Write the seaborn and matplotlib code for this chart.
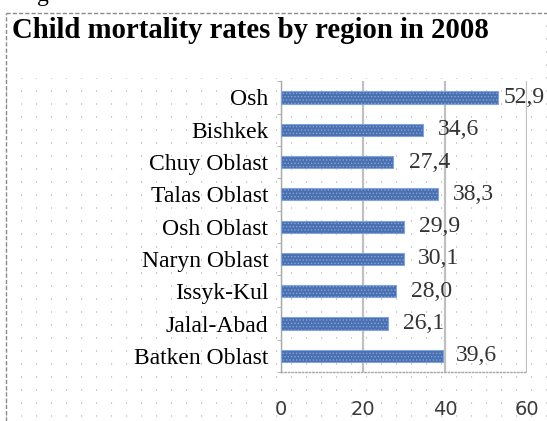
import matplotlib
matplotlib.use("Agg")
import matplotlib.pyplot as plt
import seaborn as sns
import pandas as pd
import numpy as np
from matplotlib.patches import Rectangle
from matplotlib.lines import Line2D
from matplotlib.container import BarContainer

# ---- data ----
regions = ["Osh", "Bishkek", "Chuy Oblast", "Talas Oblast", "Osh Oblast",
           "Naryn Oblast", "Issyk-Kul", "Jalal-Abad", "Batken Oblast"]
rates = [52.9, 34.6, 27.4, 38.3, 29.9, 30.1, 28.0, 26.1, 39.6]
x_ticks = [0, 20, 40, 60]
title = "Child mortality rates by region in 2008"

# ---- style ----
label_padding = [4, 11, 11, 11, 11, 10, 11, 11, 9]

plt.rcParams['lines.scale_dashes'] = False
plt.rcParams['hatch.linewidth'] = 0.6

W, H = 547, 421
fig = plt.figure(figsize=(W / 100, H / 100), dpi=100)

# dotted background pattern
bg = fig.add_axes([6 / W, 0, 1 - 6 / W, 1 - 13 / H])
bg.set_zorder(0)
bg.set_xlim(0, 1)
bg.set_ylim(0, 408)
bg.set_xticks([])
bg.set_yticks(np.arange(5, 408, 13))
bg.grid(axis='y', color='#c8c8c8', linestyle=(0, (0.8, 10)), linewidth=1.3)
bg.tick_params(length=0, labelleft=False, labelbottom=False)
for s in bg.spines.values():
    s.set_visible(False)

# white title area
fig.patches.append(Rectangle((6 / W, 1 - 78 / H), (537 - 6) / W, (78 - 13) / H,
                             transform=fig.transFigure, facecolor='white',
                             edgecolor='none', zorder=1))
# outer border
fig.lines.append(Line2D([6 / W, 6 / W], [0, 1 - 13 / H], transform=fig.transFigure,
                        color='#8a8a8a', linestyle=(0, (3, 1.5)), linewidth=1.0, zorder=3))
fig.lines.append(Line2D([6 / W, 1], [1 - 13 / H, 1 - 13 / H], transform=fig.transFigure,
                        color='#8a8a8a', linestyle=(0, (3, 1.5)), linewidth=1.0, zorder=3))

# partial text at very top (cut off in the reference too)
fig.text(37 / W, 1 - 1.5 / H, "g", fontsize=17, family='Liberation Serif',
         va='baseline', ha='left', color='black')

# main axes
ax = fig.add_axes([281 / W, 1 - 372 / H, (527 - 281) / W, (372 - 81.3) / H])
ax.set_zorder(2)
ax.patch.set_alpha(0)

df = pd.DataFrame({"region": regions, "rate": rates})
sns.barplot(data=df, x="rate", y="region", orient="h", color="#3a6cc0",
            width=0.38, ax=ax, edgecolor="#80a4dc", linewidth=0.8, zorder=3)
for p in ax.patches:
    p.set_hatch('.....')

ax.set_xlim(0, 60)
ax.set_xticks(x_ticks)
ax.xaxis.grid(True, color='#c0c0c0', linewidth=1.6)
ax.set_axisbelow(True)
ax.set_xlabel("")
ax.set_ylabel("")

ax.spines['top'].set_visible(False)
ax.spines['right'].set_visible(False)
ax.spines['left'].set_color('#a8a8a8')
ax.spines['left'].set_linewidth(1.0)
ax.spines['bottom'].set_color('#a8a8a8')
ax.spines['bottom'].set_linestyle((0, (1, 1.5)))
ax.spines['bottom'].set_linewidth(1.0)

ax.set_yticks(np.arange(-0.5, len(regions), 1), minor=True)
ax.tick_params(axis='y', which='major', length=0, pad=9, labelsize=17)
ax.tick_params(axis='y', which='minor', length=3, color='#a8a8a8', direction='out')
ax.tick_params(axis='x', which='major', length=0, pad=20, labelsize=14,
               labelcolor='#3a3a3a')
for lbl in ax.get_yticklabels():
    lbl.set_family('Liberation Serif')
    lbl.set_color('black')
for lbl in ax.get_xticklabels():
    lbl.set_family('DejaVu Sans')

labels = [f"{v:.1f}".replace('.', ',') for v in rates]
bars = list(ax.containers[0])
for bar, val, lab, pad in zip(bars, rates, labels, label_padding):
    single = BarContainer([bar], datavalues=[val], orientation='horizontal')
    ax.bar_label(single, labels=[lab], padding=pad, fontsize=17,
                 family='Liberation Serif', color='#333333')

fig.text(12 / W, 1 - 38 / H, title, fontsize=20.7, fontweight='bold',
         family='Liberation Serif', va='baseline', ha='left', zorder=4)

fig.savefig("out.png", dpi=100)
